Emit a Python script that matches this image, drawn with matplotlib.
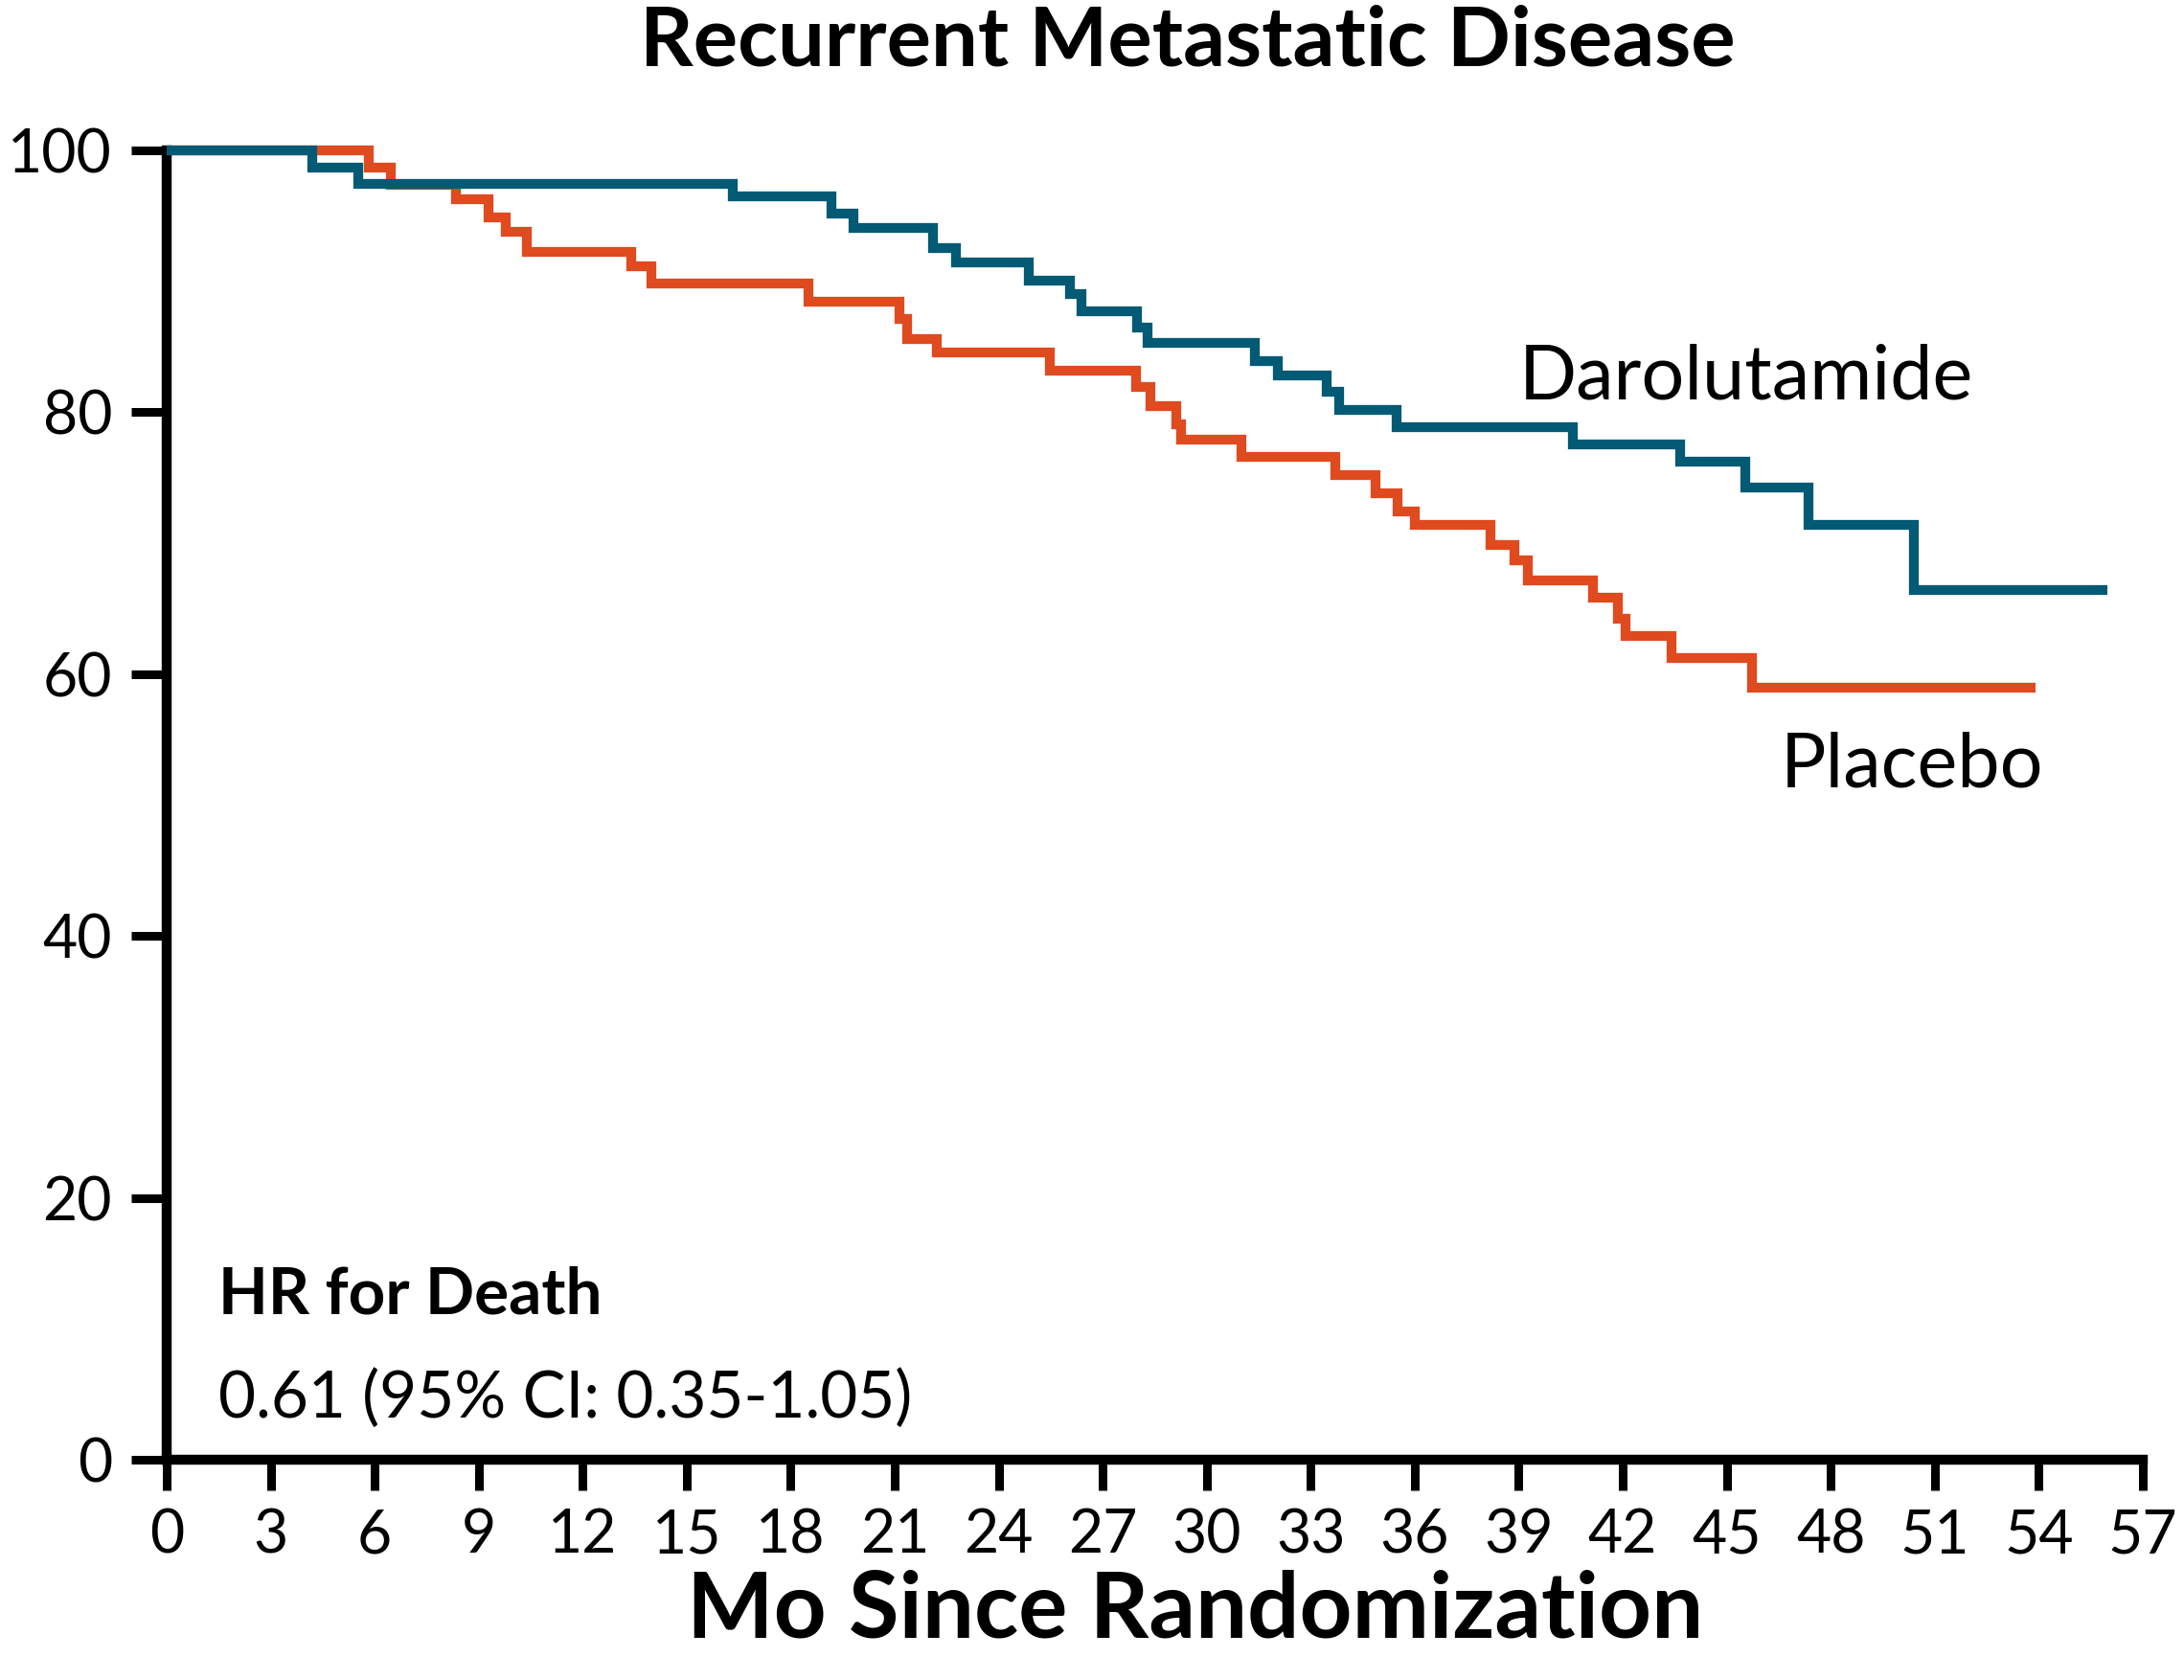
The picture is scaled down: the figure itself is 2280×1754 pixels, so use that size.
import matplotlib
matplotlib.use("Agg")
import matplotlib.pyplot as plt

plt.rcParams['font.family'] = ['Lato', 'DejaVu Sans']

# Kaplan-Meier step data: event times (months) and survival (%) after each step
dar_months = [0, 4.2, 5.53, 16.32, 19.19, 19.82, 22.10, 22.77, 24.87, 26.05, 26.38,
              28.0, 28.30, 31.40, 32.06, 33.46, 33.83, 35.49, 40.57, 43.67, 45.54,
              47.35, 50.41, 55.97]
dar_surv = [100, 98.7, 97.46, 96.5, 95.15, 94.07, 92.51, 91.44, 90.07, 89.0, 87.71,
            86.47, 85.27, 83.93, 82.83, 81.59, 80.2, 78.84, 77.56, 76.2, 74.25,
            71.42, 66.45, 66.45]

pla_months = [0, 5.83, 6.48, 8.34, 9.29, 9.78, 10.39, 13.40, 13.97, 18.50, 21.13,
              21.36, 22.22, 25.49, 27.96, 28.39, 29.11, 29.26, 31.01, 33.71, 34.86,
              35.5, 35.99, 38.2, 38.88, 39.27, 41.13, 41.85, 42.09, 43.41, 45.73,
              53.91]
pla_surv = [100, 98.7, 97.4, 96.27, 94.85, 93.75, 92.24, 91.12, 89.81, 88.42, 87.1,
            85.59, 84.59, 83.17, 81.95, 80.47, 79.05, 77.93, 76.62, 75.22, 73.81,
            72.4, 71.4, 69.88, 68.67, 67.15, 65.86, 64.25, 62.93, 61.23, 58.94,
            58.94]

x_ticks = list(range(0, 58, 3))
y_ticks = [0, 20, 40, 60, 80, 100]

title = "Recurrent Metastatic Disease"
x_label = "Mo Since Randomization"
arm_labels = ["Darolutamide", "Placebo"]
hr_title = "HR for Death"
hr_text = "0.61 (95% CI: 0.35-1.05)"

teal = "#035A74"
orange = "#E04A1F"

fig = plt.figure(figsize=(22.8, 17.54), dpi=100)
ax = fig.add_axes([0.0763, 0.1311, 0.9811 - 0.0763, 0.9105 - 0.1311])

ax.plot(pla_months, pla_surv, drawstyle="steps-post", color=orange, lw=7.4,
        solid_capstyle="butt", solid_joinstyle="miter", clip_on=False, zorder=3)
ax.plot(dar_months, dar_surv, drawstyle="steps-post", color=teal, lw=7.4,
        solid_capstyle="butt", solid_joinstyle="miter", clip_on=False, zorder=4)

ax.set_xlim(0, 57)
ax.set_ylim(0, 100)
ax.set_xticks(x_ticks)
ax.set_yticks(y_ticks)

for side in ("top", "right"):
    ax.spines[side].set_visible(False)
for side in ("left", "bottom"):
    ax.spines[side].set_linewidth(7.5)
    ax.spines[side].set_color("black")

ax.tick_params(axis="x", direction="out", length=23, width=6.5, pad=13,
               labelsize=45, color="black")
ax.tick_params(axis="y", direction="out", length=27, width=6.5, pad=14,
               labelsize=45, color="black")

ax.text(39.0, 81.05, arm_labels[0], fontsize=57, ha="left", va="baseline")
ax.text(46.55, 51.4, arm_labels[1], fontsize=57, ha="left", va="baseline")
ax.text(1.5, 11.15, hr_title, fontsize=48.5, fontweight="bold", ha="left", va="baseline")
ax.text(1.5, 3.22, hr_text, fontsize=48.5, ha="left", va="baseline")

fig.text(0.5436, 0.9612, title, fontsize=62.5, fontweight="bold", ha="center", va="baseline")
fig.text(0.5474, 0.0252, x_label, fontsize=69, fontweight="bold", ha="center", va="baseline")

fig.savefig("out.png", dpi=100, facecolor="white")
